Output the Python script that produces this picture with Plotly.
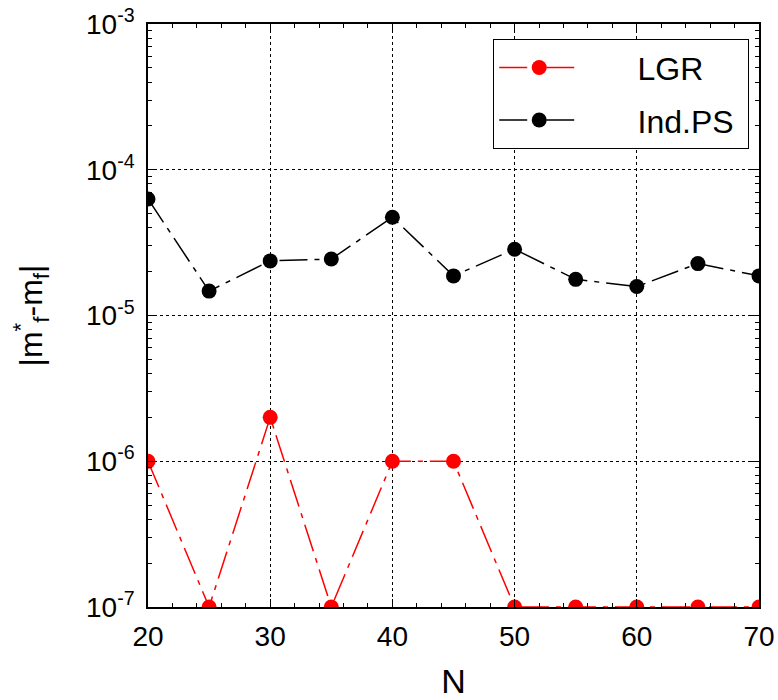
import plotly.graph_objects as go

N = [20, 25, 30, 35, 40, 45, 50, 55, 60, 65, 70]
lgr = [1e-6, 1e-7, 2e-6, 1e-7, 1e-6, 1e-6, 1e-7, 1e-7, 1e-7, 1e-7, 1e-7]
indps = [6.3e-5, 1.47e-5, 2.37e-5, 2.44e-5, 4.72e-5, 1.87e-5, 2.85e-5,
         1.77e-5, 1.58e-5, 2.27e-5, 1.87e-5]
ytick_vals = [1e-7, 1e-6, 1e-5, 1e-4, 1e-3]
ytick_text = ["10<sup>-7</sup>", "10<sup>-6</sup>", "10<sup>-5</sup>",
              "10<sup>-4</sup>", "10<sup>-3</sup>"]
xtick_vals = [20, 30, 40, 50, 60, 70]

FONT = "Liberation Sans, Arial, sans-serif"
DASH = "28px,7px,5px,7px"
PAD = "\u00a0" * 6

fig = go.Figure()
fig.add_trace(go.Scatter(
    x=N, y=lgr, name=PAD + "LGR", mode="lines+markers", legendgroup="a",
    line=dict(color="#ff0000", width=1.5, dash=DASH),
    marker=dict(color="#ff0000", size=15),
))
fig.add_trace(go.Scatter(
    x=N, y=indps, name=PAD + "Ind.PS" + "\u00a0", mode="lines+markers", legendgroup="b",
    line=dict(color="#000000", width=1.5, dash=DASH),
    marker=dict(color="#000000", size=15),
))

fig.update_layout(
    width=778, height=700,
    margin=dict(l=148, r=19, t=24, b=93),
    paper_bgcolor="white", plot_bgcolor="white",
    font=dict(family=FONT, size=28, color="black"),
    legend=dict(
        x=0.565, y=0.974, xanchor="left", yanchor="top",
        bordercolor="black", borderwidth=1, bgcolor="white",
        font=dict(size=32), itemwidth=80, tracegroupgap=8,
        traceorder="grouped",
    ),
    xaxis=dict(
        range=[20, 70], tickvals=xtick_vals, automargin=False,
        showline=True, linecolor="black", linewidth=1.5, mirror="allticks",
        ticks="inside", ticklen=8, tickcolor="black",
        showgrid=True, gridcolor="black", gridwidth=1, griddash="dot",
        minor=dict(ticks="inside", ticklen=4, dtick=2, tickcolor="black", showgrid=False),
        zeroline=False,
        title=dict(text="N", standoff=22),
        tickfont=dict(size=28),
        ticklabelstandoff=4,
    ),
    yaxis=dict(
        type="log", range=[-7, -3], automargin=False,
        tickvals=ytick_vals, ticktext=ytick_text,
        showline=True, linecolor="black", linewidth=1.5, mirror="allticks",
        ticks="inside", ticklen=8, tickcolor="black",
        showgrid=True, gridcolor="black", gridwidth=1, griddash="dot",
        minor=dict(ticks="inside", ticklen=4, dtick="D1", tickcolor="black", showgrid=False),
        zeroline=False,
        title=dict(text="|m<sup>*</sup><sub>f</sub>-m<sub>f</sub>|", standoff=34,
                   font=dict(size=32)),
        tickfont=dict(size=28),
        ticklabelstandoff=6,
    ),
)

fig.write_html("out.html")
